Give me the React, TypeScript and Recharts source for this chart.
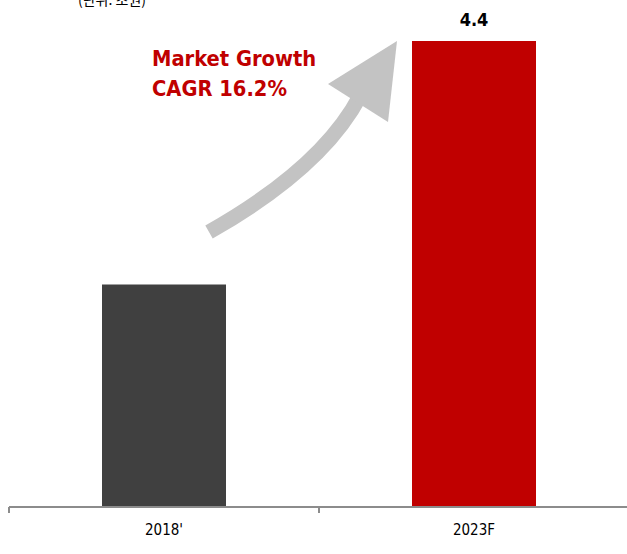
import React from "react";
import { BarChart, Bar, XAxis, YAxis, Cell, LabelList, Customized } from "recharts";

const categories = ["2018'", "2023F"];
const values = [2.1, 4.4];
const valueLabels = ["", "4.4"];
const barColors = ["#404040", "#C00000"];
const unitText = "(단위: 조원)";
const growthLines = ["Market Growth", "CAGR 16.2%"];

const data = categories.map((c, i) => ({ name: c, value: values[i], label: valueLabels[i] }));

const FONT = "'DejaVu Sans Condensed', 'DejaVu Sans', sans-serif";

const Tick = (props: any) => {
  const { x, y, payload, width, visibleTicksCount } = props;
  const band = (width || 620) / (visibleTicksCount || 2);
  const axisY = y - 6;
  const xb = x - band / 2;
  return (
    <g>
      <line x1={xb} y1={axisY} x2={xb} y2={axisY + 6} stroke="#8c8c8c" strokeWidth={2} />
      <line x1={xb + band} y1={axisY} x2={xb + band} y2={axisY + 6} stroke="#8c8c8c" strokeWidth={2} />
      <text x={x} y={axisY + 28} textAnchor="middle" fontFamily={FONT} fontSize={15} fill="#000">
        {payload.value}
      </text>
    </g>
  );
};

const Decor = () => (
  <g>
    <text x={78} y={5} fontFamily="'Noto Sans CJK KR', sans-serif" fontSize={14} fill="#000">
      {unitText}
    </text>
    <path d="M209,232 Q322,168 360,96" fill="none" stroke="#c3c3c3" strokeWidth={15} />
    <polygon points="397,41 328,84 388,122" fill="#c3c3c3" />
    <text x={152} y={66} fontFamily={FONT} fontWeight="bold" fontSize={21.7} fill="#C00000">
      {growthLines[0]}
    </text>
    <text x={152} y={96} fontFamily={FONT} fontWeight="bold" fontSize={21.7} fill="#C00000">
      {growthLines[1]}
    </text>
  </g>
);

export default function App() {
  return (
    <div style={{ position: "absolute", left: 0, top: 0, width: 627, height: 554, overflow: "hidden", background: "#fff" }}>
      <BarChart width={630} height={554} data={data} margin={{ top: 41, right: 1, left: 9, bottom: 0 }}>
        <XAxis
          dataKey="name"
          height={47}
          axisLine={{ stroke: "#8c8c8c", strokeWidth: 2 }}
          tickLine={false}
          tickSize={6}
          tickMargin={0}
          tick={<Tick />}
          interval={0}
        />
        <YAxis hide domain={[0, 4.4]} />
        <Bar dataKey="value" barSize={124} isAnimationActive={false}>
          {data.map((d, i) => (
            <Cell key={d.name} fill={barColors[i]} />
          ))}
          <LabelList
            dataKey="label"
            position="top"
            offset={15}
            fontFamily={FONT}
            fontWeight="bold"
            fontSize={18}
            fill="#000"
          />
        </Bar>
        <Customized component={Decor} />
      </BarChart>
    </div>
  );
}
